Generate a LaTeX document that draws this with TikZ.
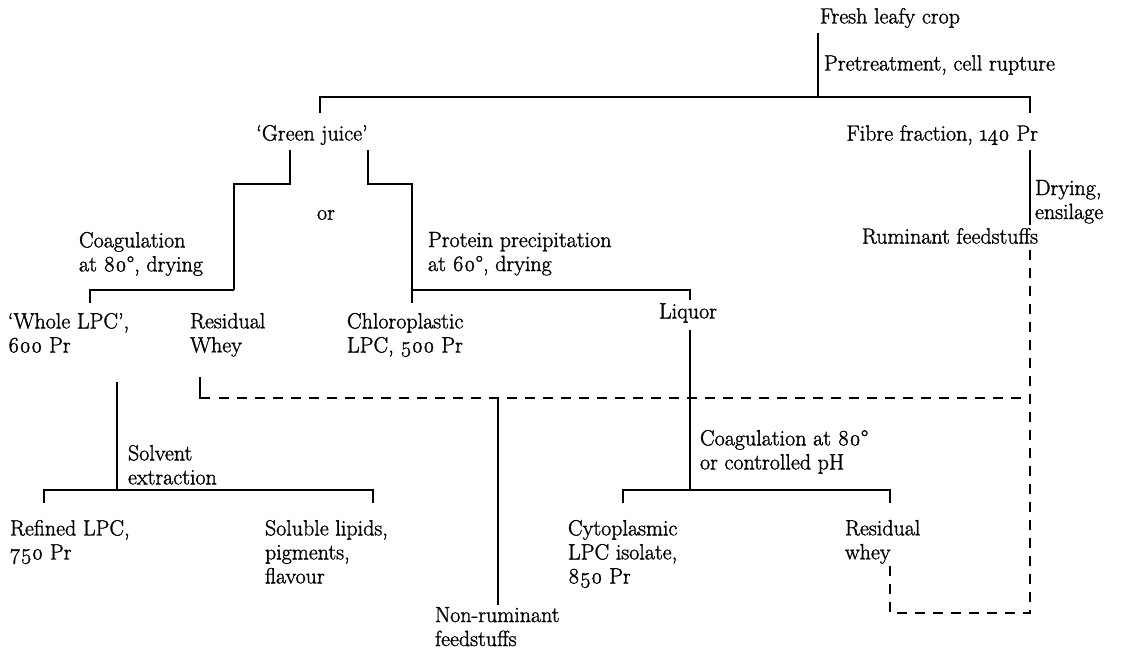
\documentclass[tikz,border=0pt]{standalone}
\usepackage{fontspec}
\setmainfont{Latin Modern Roman}[FakeBold=1.4,Numbers=OldStyle]
\newcommand{\dg}{°}
\tikzset{
  lbl/.style={inner sep=0pt, outer sep=0pt, align=left, font=\fontsize{22}{24}\selectfont},
  conn/.style={line width=1.8pt, line cap=butt, line join=miter},
  dconn/.style={conn, dash pattern=on 10pt off 8pt}
}
\begin{document}
\begin{tikzpicture}[x=1pt,y=-1pt]
\useasboundingbox (0,0) rectangle (1123,655);
% text nodes
\node[lbl] (fresh) at (890,18) {Fresh leafy crop};
\node[lbl,anchor=west] (pre) at (824,65) {Pretreatment, cell rupture};
\node[lbl] (gj) at (312,135) {`Green juice'};
\node[lbl,anchor=east] (fibre) at (1038,135) {Fibre fraction, 140 Pr};
\node[lbl,anchor=north west] (dry) at (1035,180) {Drying,\\ensilage};
\node[lbl,anchor=east] (rum) at (1038,236) {Ruminant feedstuffs};
\node[lbl] (or) at (326,215) {or};
\node[lbl,anchor=north west] (coag1) at (79,232) {Coagulation\\at 80\dg, drying};
\node[lbl,anchor=north west] (prot) at (428,232) {Protein precipitation\\at 60\dg, drying};
\node[lbl,anchor=north west] (whole) at (8,313) {`Whole LPC',\\600 Pr};
\node[lbl,anchor=north west] (resw) at (190,313) {Residual\\Whey};
\node[lbl,anchor=north west] (chloro) at (347,313) {Chloroplastic\\LPC, 500 Pr};
\node[lbl] (liquor) at (688,313) {Liquor};
\node[lbl,anchor=north west] (solv) at (128,445) {Solvent\\extraction};
\node[lbl,anchor=north west] (coag2) at (700,430) {Coagulation at 80\dg\\or controlled pH};
\node[lbl,anchor=north west] (refined) at (10,520) {Refined LPC,\\750 Pr};
\node[lbl,anchor=north west] (soluble) at (265,520) {Soluble lipids,\\pigments,\\flavour};
\node[lbl,anchor=north west] (cyto) at (568,520) {Cytoplasmic\\LPC isolate,\\850 Pr};
\node[lbl,anchor=north west] (resw2) at (845,520) {Residual\\whey};
\node[lbl,anchor=north west] (nonrum) at (435,607) {Non-ruminant\\feedstuffs};
% junction coordinates
\coordinate (m0) at (818,33);
\coordinate (m1) at (818,97);
\coordinate (gjT) at (320,113);
\coordinate (fbT) at (1030,113);
\coordinate (gjL) at (290,150);
\coordinate (gjR) at (368,150);
\coordinate (cL) at (234,290);
\coordinate (wlT) at (90,303);
\coordinate (pL) at (412,290);
\coordinate (chT) at (412,303);
\coordinate (lqT) at (690,300);
\coordinate (lqB) at (690,330);
\coordinate (lqJ) at (690,490);
\coordinate (cyT) at (623,503);
\coordinate (rwT) at (890,503);
\coordinate (wlB) at (117,382);
\coordinate (wlJ) at (117,490);
\coordinate (rfT) at (44,503);
\coordinate (slT) at (373,503);
\coordinate (fbB) at (1030,150);
\coordinate (dryB) at (1030,225);
\coordinate (rumB) at (1030,250);
\coordinate (rwB) at (200,377);
\coordinate (rwC) at (210,398);
\coordinate (dS) at (219,398);
\coordinate (dJ) at (498,398);
\coordinate (nrT) at (498,605);
\coordinate (rw2B) at (890,565);
% connectors
\draw[conn] (m0) -- (m1);
\draw[conn] (gjT) -- (gjT |- m1) -- (fbT |- m1) -- (fbT);
\draw[conn] (gjL) -- ++(0,34) -| (cL);
\draw[conn] (wlT) |- (cL);
\draw[conn] (gjR) -- ++(0,34) -| (chT);
\draw[conn] (pL) -| (lqT);
\draw[conn] (lqB) -- (lqJ);
\draw[conn] (cyT) |- (lqJ) -| (rwT);
\draw[conn] (wlB) -- (wlJ);
\draw[conn] (rfT) |- (wlJ) -| (slT);
\draw[conn] (fbB) -- (dryB);
\draw[conn] (rwB) |- (rwC);
\draw[dconn] (dS) -- (rumB |- dJ);
\draw[dconn] (rumB) -- (rumB |- 0,613) -| (rw2B);
\draw[conn] (dJ) -- (nrT);
\end{tikzpicture}
\end{document}
